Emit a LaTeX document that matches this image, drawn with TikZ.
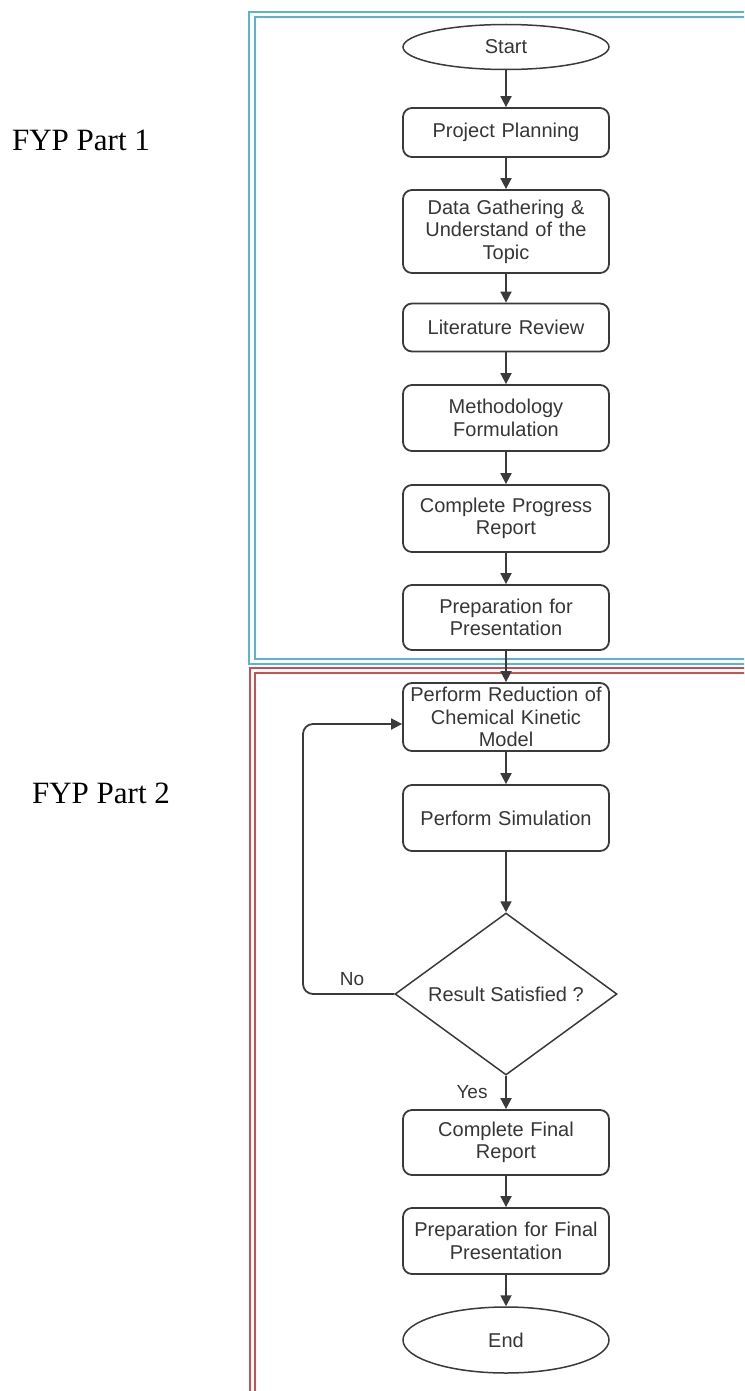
\documentclass[tikz,border=0pt]{standalone}
\usepackage{fontspec}
\setmainfont{Liberation Serif}
\newfontfamily\boxfont{Liberation Sans}
\usetikzlibrary{shapes.geometric,arrows.meta}
\definecolor{linegray}{HTML}{3A3A3A}
\definecolor{textgray}{HTML}{363636}
\definecolor{frameblue}{HTML}{5AB4CF}
\definecolor{framered}{HTML}{C9504F}
\begin{document}
\begin{tikzpicture}[x=1pt,y=-1pt,
  proc/.style={draw=linegray, line width=1.8pt, rounded corners=9pt,
    minimum width=206pt, text width=200pt, align=center, inner sep=0pt,
    font=\boxfont\fontsize{20}{22.5}\selectfont, text=textgray},
  term/.style={ellipse, draw=linegray, line width=1.5pt, minimum width=206pt,
    inner sep=0pt, font=\boxfont\fontsize{20}{22.5}\selectfont, text=textgray},
  dec/.style={diamond, draw=linegray, line width=1.5pt, minimum width=222pt,
    minimum height=162pt, aspect=1.37, inner sep=0pt,
    font=\boxfont\fontsize{20}{22.5}\selectfont, text=textgray},
  arr/.style={-{Triangle[length=11pt,width=11pt]}, line width=1.8pt, draw=linegray},
  lbl/.style={font=\boxfont\fontsize{19}{22}\selectfont, text=textgray, inner sep=0pt},
  part/.style={font=\fontsize{31}{36}\selectfont, inner sep=0pt},
  frame/.style={line width=1.8pt}]
\clip (0,0) rectangle (744,1391);
% frames
\draw[frame, frameblue] (249,12) rectangle (800,664);
\draw[frame, frameblue] (255,17) rectangle (800,659);
\draw[frame, framered] (250,668) rectangle (800,1420);
\draw[frame, framered] (255,673) rectangle (800,1420);
% part labels
\node[part] (p1) at (81,140) {FYP Part 1};
\node[part] (p2) at (101,793) {FYP Part 2};
% nodes
\node[term, minimum height=45pt] (start) at (506,47) {Start};
\node[proc, minimum height=49pt] (pp) at (506,132.5) {Project Planning};
\node[proc, minimum height=83pt] (dg) at (506,231.5) {Data Gathering \&\\Understand of the\\Topic};
\node[proc, minimum height=48pt] (lr) at (506,327.5) {Literature Review};
\node[proc, minimum height=66pt] (mf) at (506,418) {Methodology\\Formulation};
\node[proc, minimum height=67pt] (cpr) at (506,518.5) {Complete Progress\\Report};
\node[proc, minimum height=65pt] (pfp) at (506,617.5) {Preparation for\\Presentation};
\node[proc, minimum height=68pt] (prc) at (506,717) {Perform Reduction of\\Chemical Kinetic\\Model};
\node[proc, minimum height=66pt] (ps) at (506,818) {Perform Simulation};
\node[dec] (dia) at (506,994) {Result Satisfied ?};
\node[proc, minimum height=65pt] (cfr) at (506,1142.5) {Complete Final\\Report};
\node[proc, minimum height=66pt] (pffp) at (506,1241) {Preparation for Final\\Presentation};
\node[term, minimum height=66pt] (end) at (506,1340) {End};
% connectors
\draw[arr] (start) -- (pp);
\draw[arr] (pp) -- (dg);
\draw[arr] (dg) -- (lr);
\draw[arr] (lr) -- (mf);
\draw[arr] (mf) -- (cpr);
\draw[arr] (cpr) -- (pfp);
\draw[arr] (pfp) -- (prc);
\draw[arr] (prc) -- (ps);
\draw[arr] (ps) -- (dia);
\draw[arr] (dia) -- (cfr);
\draw[arr] (cfr) -- (pffp);
\draw[arr] (pffp) -- (end);
\coordinate (lp) at (303,724);
\draw[arr, rounded corners=10pt] (dia.west) -- (lp |- dia.west) -- (lp) -- (lp -| prc.west);
\node[lbl] (no) at (352,979) {No};
\node[lbl] (yes) at (472,1092) {Yes};
\end{tikzpicture}
\end{document}
